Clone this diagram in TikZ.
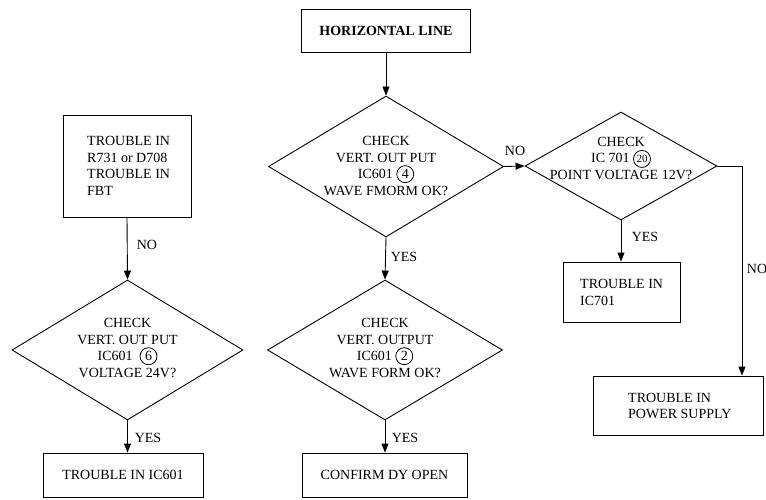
\documentclass[tikz,border=0pt]{standalone}
\usepackage{fontspec}
\setmainfont{Liberation Serif}
\usetikzlibrary{shapes.geometric,arrows.meta}
\newcommand\cnum[2][14]{\tikz[baseline=(cnn.base)]\node[draw,circle,inner sep=0pt,minimum size=17pt,line width=0.8pt,font=\fontsize{#1}{#1}\selectfont](cnn){#2};}
\tikzset{
  box/.style={draw,rectangle,line width=0.9pt,inner sep=0pt},
  dia/.style={draw,diamond,line width=0.9pt,inner sep=0pt},
  txt/.style={align=center,inner sep=0pt},
  ltxt/.style={align=left,inner sep=0pt,anchor=west},
  lab/.style={inner sep=0pt},
  arr/.style={line width=0.9pt,-{Triangle[length=9pt,width=7pt]}},
}
\begin{document}
\begin{tikzpicture}[x=1pt,y=-1pt,font=\fontsize{14}{16.5}\selectfont]
\useasboundingbox (0,0) rectangle (766,500);
% top centre
\node[box,minimum width=169pt,minimum height=43pt] (hl) at (386,31) {\bfseries HORIZONTAL LINE};
\node[dia,minimum width=235pt,minimum height=141pt] (d1) at (386,166.5) {};
\node[txt] (t1) at (386,166) {CHECK\\VERT. OUT PUT\\IC601 \cnum{4}\\WAVE FMORM OK?};
\node[dia,minimum width=235pt,minimum height=140pt] (d2) at (385,350) {};
\node[txt] (t2) at (385,348) {CHECK\\VERT. OUTPUT\\IC601 \cnum{2}\\WAVE FORM OK?};
\node[box,minimum width=165pt,minimum height=44pt] (bdy) at (384.5,475) {CONFIRM DY OPEN};
% left column
\node[box,minimum width=128pt,minimum height=102pt] (b1) at (127,166) {};
\node[ltxt] (t3) at (87,166) {TROUBLE IN\\R731 or D708\\TROUBLE IN\\FBT};
\node[dia,minimum width=231pt,minimum height=140pt] (d3) at (127.5,350) {};
\node[txt] (t4) at (127.5,348) {CHECK\\VERT. OUT PUT\\IC601\enspace\cnum{6}\\VOLTAGE 24V?};
\node[box,minimum width=160pt,minimum height=44pt] (b601) at (123,475) {TROUBLE IN IC601};
% right column
\node[dia,minimum width=192pt,minimum height=108pt] (d4) at (621,166) {};
\node[txt] (t5) at (621,158) {CHECK\\IC 701 \cnum[11]{20}\\POINT VOLTAGE 12V?};
\node[box,minimum width=117pt,minimum height=60pt] (b701) at (621.5,292) {};
\node[ltxt] (t6) at (580,292.5) {TROUBLE IN\\IC701};
\node[box,minimum width=170pt,minimum height=59pt] (bps) at (678,405.5) {};
\node[ltxt] (t7) at (628,406) {TROUBLE IN\\POWER SUPPLY};
\coordinate (c1) at (742,166);
% connectors
\draw[arr] (hl.south) -- (d1.north);
\draw[arr] (d1.south) -- (d2.north);
\draw[arr] (d2.south) -- (d2.south |- bdy.north);
\draw[arr] (b1.south) -- (d3.north);
\draw[arr] (d3.south) -- (d3.south |- b601.north);
\draw[arr] (d1.east) -- (d4.west);
\draw[arr] (d4.south) -- (d4.south |- b701.north);
\draw[arr] (d4.east) -- (c1) -- (c1 |- bps.north);
% labels
\node[lab] (l1) at (515,151) {NO};
\node[lab] (l2) at (404,257) {YES};
\node[lab] (l3) at (405,438) {YES};
\node[lab] (l4) at (147,245) {NO};
\node[lab] (l5) at (148,438) {YES};
\node[lab] (l6) at (645,237) {YES};
\node[lab] (l7) at (757,269) {NO};
\end{tikzpicture}
\end{document}
